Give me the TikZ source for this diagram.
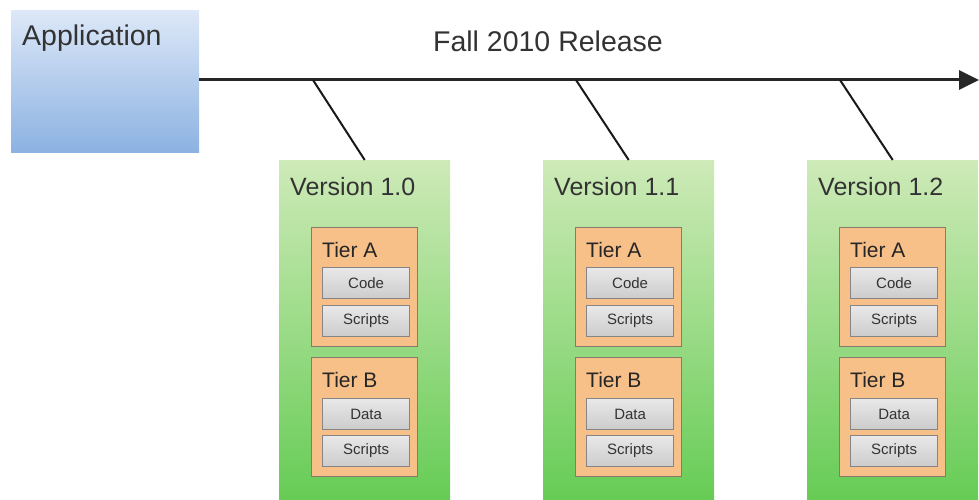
\documentclass[tikz,border=0pt]{standalone}
\usepackage{fontspec}
\setmainfont{Liberation Sans}
\usetikzlibrary{arrows.meta}
\definecolor{apptop}{HTML}{DDE8F8}
\definecolor{appbot}{HTML}{8CB2E2}
\definecolor{vertop}{HTML}{CEEAB8}
\definecolor{verbot}{HTML}{66CC55}
\definecolor{tierfill}{HTML}{F8C089}
\definecolor{tierline}{HTML}{8A7A6A}
\definecolor{itemtop}{HTML}{E8E8E8}
\definecolor{itembot}{HTML}{CCCCCC}
\definecolor{itemline}{HTML}{858585}
\definecolor{txt}{HTML}{333333}
\tikzset{
  appbox/.style={rectangle, top color=apptop, bottom color=appbot, draw=none, anchor=north west, minimum width=188pt, minimum height=142pt, inner sep=0pt},
  verbox/.style={rectangle, top color=vertop, bottom color=verbot, draw=none, anchor=north west, minimum width=171pt, minimum height=340pt, inner sep=0pt},
  tierbox/.style={rectangle, fill=tierfill, draw=tierline, line width=1.2pt, anchor=north west, minimum width=106pt, minimum height=119pt, inner sep=0pt},
  itembox/.style={rectangle, top color=itemtop, bottom color=itembot, draw=itemline, line width=1.2pt, anchor=north west, minimum width=87pt, minimum height=31pt, inner sep=0pt},
  itemtext/.style={text=txt, font=\fontsize{15}{16}\selectfont, inner sep=0pt},
  bigtext/.style={text=txt, font=\fontsize{28.5}{30}\selectfont, inner sep=0pt},
  vertext/.style={text=txt, font=\fontsize{25}{27}\selectfont, inner sep=0pt, anchor=base west},
  tiertext/.style={text=black!85, font=\fontsize{21}{23}\selectfont, inner sep=0pt, anchor=base west},
  timeline/.style={line width=3pt, draw=black!85, -{Triangle[length=20pt,width=19pt]}},
  tick/.style={line width=2pt, draw=black!90}
}
\begin{document}
\begin{tikzpicture}[x=1pt,y=-1pt]
\useasboundingbox (0,0) rectangle (979,500);
\node[appbox] (app) at (11,10) {};
\node[bigtext, anchor=base west] (apptext) at (22,46) {Application};
\node[bigtext, anchor=base] (rel) at (548,52) {Fall 2010 Release};
\coordinate (tlstart) at (199,80);
\coordinate (tlend) at (979,80);
\draw[timeline] (tlstart) -- (tlend);
\foreach \vx/\vn/\tx [count=\i] in {279/1.0/313, 543/1.1/576, 807/1.2/840} {
  \node[verbox] (v\i) at (\vx,160) {};
  \coordinate (t\i) at (\tx,80);
  \draw[tick] (t\i) -- (v\i.north);
  \node[vertext] (vt\i) at (\vx+11,195) {Version \vn};
  \node[tierbox] (ta\i) at (\vx+32,227) {};
  \node[tiertext] (tat\i) at (\vx+43,257) {Tier A};
  \node[itembox] (code\i) at (\vx+43,267) {};
  \node[itemtext] (codet\i) at (code\i.center) {Code};
  \node[itembox] (sa\i) at (\vx+43,305) {};
  \node[itemtext] (sat\i) at (sa\i.center) {Scripts};
  \node[tierbox] (tb\i) at (\vx+32,357) {};
  \node[tiertext] (tbt\i) at (\vx+43,387) {Tier B};
  \node[itembox] (data\i) at (\vx+43,398) {};
  \node[itemtext] (datat\i) at (data\i.center) {Data};
  \node[itembox] (sb\i) at (\vx+43,435) {};
  \node[itemtext] (sbt\i) at (sb\i.center) {Scripts};
}
\end{tikzpicture}
\end{document}
